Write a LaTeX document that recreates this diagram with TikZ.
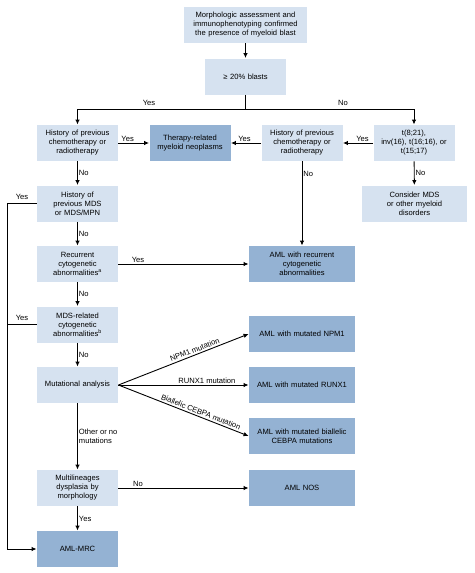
\documentclass[tikz,border=0pt]{standalone}
\usepackage{fontspec}
\setmainfont{Liberation Sans}
\usetikzlibrary{arrows.meta}

\definecolor{lightblue}{RGB}{214,226,240}
\definecolor{darkblue}{RGB}{148,178,211}

\begin{document}
\begin{tikzpicture}[x=1pt, y=-1pt, >={Latex[length=5pt,width=4.5pt]}, line width=0.9pt, font=\fontsize{7.6}{9}\selectfont]
    \tikzstyle{box} = [rectangle, fill=lightblue, text width=75pt, minimum width=81pt, minimum height=36pt, inner sep=1pt, align=center]
    \tikzstyle{dbox} = [box, fill=darkblue]
    \tikzstyle{wbox} = [dbox, text width=100pt, minimum width=106pt]
    \tikzstyle{lbl} = [inner sep=1pt]

    \useasboundingbox (0,0) rectangle (474,573);

    \node[box, text width=117pt, minimum width=123pt] (top) at (245.5, 25) {Morphologic assessment and \\ immunophenotyping confirmed \\ the presence of myeloid blast};
    \node[box] (blasts) at (245.5, 76.5) {≥ 20\% blasts};

    \node[box] (hL) at (77.5, 143) {History of previous \\ chemotherapy or \\ radiotherapy};
    \node[dbox] (tr) at (190, 143) {Therapy-related \\ myeloid neoplasms};
    \node[box] (hM) at (302, 143) {History of previous \\ chemotherapy or \\ radiotherapy};
    \node[box] (tcy) at (414, 143) {t(8;21), \\ inv(16), t(16;16), or \\ t(15;17)};

    \node[box] (hMDS) at (77.5, 203.5) {History of \\ previous MDS \\ or MDS/MPN};
    \node[box, minimum width=105pt] (cons) at (414.5, 203.5) {Consider MDS \\ or other myeloid \\ disorders};

    \node[box] (rec) at (77.5, 264) {Recurrent \\ cytogenetic \\ abnormalities\textsuperscript{a}};
    \node[wbox] (amlrec) at (302, 264) {AML with recurrent \\ cytogenetic \\ abnormalities};

    \node[box] (mdsr) at (77.5, 324.5) {MDS-related \\ cytogenetic \\ abnormalities\textsuperscript{b}};
    \node[wbox] (npm) at (302, 334) {AML with mutated NPM1};

    \node[box] (mut) at (77.5, 385) {Mutational analysis};
    \node[wbox] (runx) at (302, 385) {AML with mutated RUNX1};
    \node[wbox] (bial) at (302, 436) {AML with mutated biallelic \\ CEBPA mutations};

    \node[box] (multi) at (77.5, 488) {Multilineages \\ dysplasia by \\ morphology};
    \node[wbox] (nos) at (302, 488) {AML NOS};

    \node[dbox] (mrc) at (77.5, 549) {AML-MRC};

    \coordinate (j) at (245.5, 109);
    \coordinate (l1) at (7, 203.5);

    \draw [->] (top) -- (blasts);
    \draw [-] (blasts) -- (j);
    \draw [->] (j) -| (hL);
    \draw [->] (j) -| (tcy);
    \node[lbl] at (149, 103) {Yes};
    \node[lbl] at (343, 103) {No};

    \draw [->] (hL) -- node[lbl, above, pos=0.3] {Yes} (tr);
    \draw [->] (hM) -- node[lbl, above, pos=0.55] {Yes} (tr);
    \draw [->] (tcy) -- node[lbl, above, pos=0.35] {Yes} (hM);

    \draw [->] (hL) -- node[lbl, right] {No} (hMDS);
    \draw [->] (hM) -- node[lbl, right, pos=0.15] {No} (amlrec);
    \draw [->] (tcy) -- node[lbl, right] {No} (cons);

    \draw [->] (hMDS) -- node[lbl, right] {No} (rec);
    \draw [->] (rec) -- node[lbl, above, pos=0.15] {Yes} (amlrec);
    \draw [->] (rec) -- node[lbl, right] {No} (mdsr);
    \draw [->] (mdsr) -- node[lbl, right] {No} (mut);

    \draw [->] (mut.east) -- node[lbl, sloped, pos=0.6, yshift=5pt] {NPM1 mutation} (npm.west);
    \draw [->] (mut.east) -- node[lbl, above, pos=0.68] {RUNX1 mutation} (runx.west);
    \draw [->] (mut.east) -- node[lbl, sloped, pos=0.62, yshift=5pt] {Biallelic CEBPA mutation} (bial.west);

    \draw [->] (mut) -- node[lbl, right, align=left] {Other or no \\ mutations} (multi);
    \draw [->] (multi) -- node[lbl, above, pos=0.15] {No} (nos);
    \draw [->] (multi) -- node[lbl, right] {Yes} (mrc);

    \draw [->] (hMDS.west) -- (l1) |- (mrc);
    \draw [-] (mdsr.west) -- (mdsr.west -| l1);
    \node[lbl] at (22, 197) {Yes};
    \node[lbl] at (22, 318) {Yes};
\end{tikzpicture}
\end{document}
